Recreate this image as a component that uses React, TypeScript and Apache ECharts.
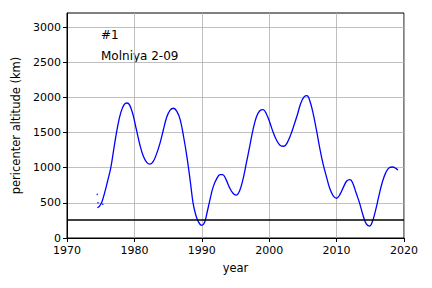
import React, { useEffect, useRef } from "react";
import * as echarts from "echarts";

const years = [
  1974.5, 1974.8, 1975.2, 1975.6, 1976.0, 1976.5, 1977.0, 1977.5, 1978.0, 1978.5, 1978.9,
  1979.3, 1979.8, 1980.3, 1980.8, 1981.3, 1981.8, 1982.3, 1982.8, 1983.3, 1983.8, 1984.3,
  1984.8, 1985.3, 1985.8, 1986.3, 1986.8, 1987.3, 1987.8, 1988.3, 1988.7, 1989.1, 1989.5,
  1990.0, 1990.4, 1990.8, 1991.2, 1991.7, 1992.2, 1992.7, 1993.1, 1993.6, 1994.1, 1994.6,
  1995.1, 1995.6, 1996.1, 1996.6, 1997.1, 1997.6, 1998.1, 1998.6, 1999.1, 1999.6, 2000.1,
  2000.6, 2001.1, 2001.6, 2002.2, 2002.7, 2003.2, 2003.7, 2004.2, 2004.7, 2005.2, 2005.6,
  2006.0, 2006.5, 2007.0, 2007.5, 2008.0, 2008.5, 2009.0, 2009.5, 2010.0, 2010.5, 2011.0,
  2011.5, 2012.0, 2012.4, 2012.9, 2013.4, 2013.9, 2014.4, 2014.9, 2015.3, 2015.8, 2016.3,
  2016.8, 2017.3, 2017.8, 2018.3, 2018.8, 2019.1,
];
const altitudes = [
  430, 450, 520, 650, 800, 1000, 1300, 1580, 1790, 1900, 1920,
  1890, 1750, 1540, 1330, 1170, 1080, 1050, 1090, 1200, 1350, 1540,
  1720, 1820, 1845, 1800, 1680, 1440, 1150, 800, 500, 330, 230,
  180, 220, 370, 540, 730, 840, 900, 900, 830, 720, 640,
  610, 670, 830, 1060, 1300, 1540, 1720, 1810, 1825, 1760, 1640,
  1500, 1390, 1320, 1305, 1360, 1470, 1610, 1760, 1920, 2010, 2025,
  1960, 1780, 1540, 1280, 1050, 870, 700, 600, 565, 620, 720,
  810, 830, 780, 640, 500, 330, 200, 170, 230, 400, 610,
  800, 930, 1000, 1010, 990, 965,
];
const outlierYears = [1974.5, 1974.6, 1975.3];
const outlierValues = [620, 500, 480];
const thresholdAltitude = 255;
const xTicks = [1970, 1980, 1990, 2000, 2010, 2020];
const yTicks = [0, 500, 1000, 1500, 2000, 2500, 3000];
const labelNumber = "#1";
const labelName = "Molniya 2-09";

const FONT = "DejaVu Sans";

export default function App() {
  const ref = useRef<HTMLDivElement>(null);
  useEffect(() => {
    if (!ref.current) return;
    const chart = echarts.init(ref.current, undefined, { renderer: "svg" });
    chart.setOption({
      animation: false,
      textStyle: { fontFamily: FONT },
      grid: {
        left: 67,
        right: 28,
        top: 13,
        bottom: 50,
        show: true,
        borderColor: "#000",
        borderWidth: 1,
        backgroundColor: "transparent",
      },
      xAxis: {
        type: "value",
        min: 1970,
        max: 2020,
        interval: 10,
        name: "year",
        nameLocation: "middle",
        nameGap: 24,
        nameTextStyle: { fontFamily: FONT, fontSize: 11.5, color: "#000" },
        axisLine: { show: true, lineStyle: { color: "#000", width: 1 } },
        axisTick: { show: true, length: 4, lineStyle: { color: "#000" }, customValues: xTicks },
        axisLabel: {
          fontFamily: FONT,
          fontSize: 11,
          lineHeight: 11,
          color: "#000",
          margin: 7,
          customValues: xTicks,
          formatter: (v: number) => String(v),
        },
        splitLine: { show: true, lineStyle: { color: "#b0b0b0", width: 0.8 } },
      },
      yAxis: {
        type: "value",
        min: 0,
        max: 3200,
        interval: 500,
        name: "pericenter altitude (km)",
        nameLocation: "middle",
        nameGap: 42,
        nameTextStyle: { fontFamily: FONT, fontSize: 11.5, color: "#000" },
        axisLine: { show: true, lineStyle: { color: "#000", width: 1 } },
        axisTick: { show: true, length: 4, lineStyle: { color: "#000" }, customValues: yTicks },
        axisLabel: {
          fontFamily: FONT,
          fontSize: 11,
          lineHeight: 11,
          color: "#000",
          margin: 6,
          customValues: yTicks,
          formatter: (v: number) => String(v),
        },
        splitLine: { show: true, lineStyle: { color: "#b0b0b0", width: 0.8 } },
      },
      graphic: [
        {
          type: "text",
          left: 101,
          top: 29,
          style: { text: labelNumber, fill: "#000", font: `12px "${FONT}"` },
        },
        {
          type: "text",
          left: 101,
          top: 50,
          style: { text: labelName, fill: "#000", font: `12px "${FONT}"` },
        },
      ],
      series: [
        {
          type: "line",
          data: years.map((y, i) => [y, altitudes[i]]),
          smooth: 0.4,
          showSymbol: false,
          symbol: "none",
          lineStyle: { color: "#0000ff", width: 1.3 },
          markLine: {
            silent: true,
            symbol: "none",
            label: { show: false },
            lineStyle: { color: "#000", width: 1.5, type: "solid" },
            data: [{ yAxis: thresholdAltitude }],
          },
          z: 3,
        },
        {
          type: "scatter",
          data: outlierYears.map((y, i) => [y, outlierValues[i]]),
          symbol: "rect",
          symbolSize: 1.5,
          itemStyle: { color: "#0000ff" },
        },
      ],
    });
    return () => chart.dispose();
  }, []);
  return (
    <div
      ref={ref}
      style={{ position: "absolute", left: 0, top: 0, width: 432, height: 288 }}
    />
  );
}
